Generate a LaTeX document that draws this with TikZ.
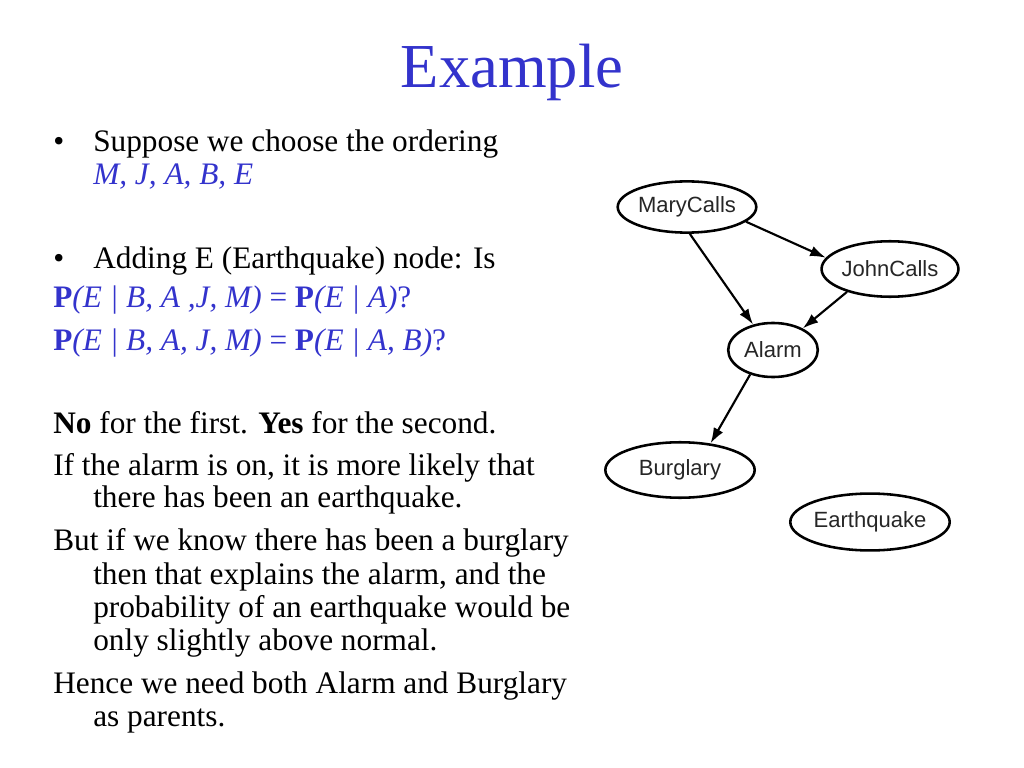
\documentclass[tikz,border=0pt]{standalone}
\usepackage{fontspec}
\setmainfont{Liberation Serif}
\newfontfamily\graphfont{Liberation Sans}
\usetikzlibrary{shapes.geometric,arrows.meta}
\definecolor{slideblue}{RGB}{51,51,204}
\tikzset{
  txt/.style={anchor=base west,inner sep=0pt,font=\fontsize{22}{24}\selectfont},
  bnode/.style={ellipse,draw,line width=1.8pt,inner sep=0pt,text=black!85,font=\graphfont\fontsize{15.5}{17}\selectfont},
  edge/.style={line width=1.5pt,-{Latex[length=11pt,width=7.5pt]}}
}
\begin{document}
\begin{tikzpicture}[x=0.703125pt,y=-0.703125pt]
		\useasboundingbox (0,0) rectangle (1024,768);
		%title
		\node[anchor=base,inner sep=0pt,font=\fontsize{44}{48}\selectfont,color=slideblue](title) at (512,88) {Example};
		%bullets
		\node[txt](dot1) at (53,152) {\textbullet};
		\node[txt](sup) at (93,152) {Suppose we choose the ordering};
		\node[txt,color=slideblue](order) at (93,185) {\textit{M, J, A, B, E}};
		\node[txt](dot2) at (53,269) {\textbullet};
		\node[txt](add) at (93,269) {Adding E (Earthquake) node: Is};
		\node[txt,color=slideblue](qone) at (53,308) {\textbf{P}\textit{(E | B, A ,J, M)} = \textbf{P}\textit{(E | A)}?};
		\node[txt,color=slideblue](qtwo) at (53,350) {\textbf{P}\textit{(E | B, A, J, M)} = \textbf{P}\textit{(E | A, B)}?};
		%answer
		\node[txt](ans) at (53,433) {\textbf{No} for the first. \textbf{Yes} for the second.};
		\node[txt](ifa) at (53,475) {If the alarm is on, it is more likely that};
		\node[txt](ifb) at (93,507) {there has been an earthquake.};
		\node[txt](buta) at (53,550) {But if we know there has been a burglary};
		\node[txt](butb) at (93,584) {then that explains the alarm, and the};
		\node[txt](butc) at (93,617) {probability of an earthquake would be};
		\node[txt](butd) at (93,650) {only slightly above normal.};
		\node[txt](hena) at (53,693) {Hence we need both Alarm and Burglary};
		\node[txt](henb) at (93,726) {as parents.};
		%network
		\node[bnode,minimum width=95pt,minimum height=36pt](mary) at (687,207) {MaryCalls};
		\node[bnode,minimum width=93pt,minimum height=39pt](john) at (890,269) {JohnCalls};
		\node[bnode,minimum width=63pt,minimum height=38pt](alarm) at (773,350) {Alarm};
		\node[bnode,minimum width=105pt,minimum height=39pt](burg) at (680,470) {Burglary};
		\node[bnode,minimum width=105pt,minimum height=40pt](quake) at (870,522) {Earthquake};
		%arrows
		\draw[edge] (mary.-14.5) -- (john.170);
		\draw[edge] (mary.-84) -- (alarm.128);
		\draw[edge] (john.208) -- (alarm.36);
		\draw[edge] (alarm.227) -- (burg.41);
\end{tikzpicture}
\end{document}
